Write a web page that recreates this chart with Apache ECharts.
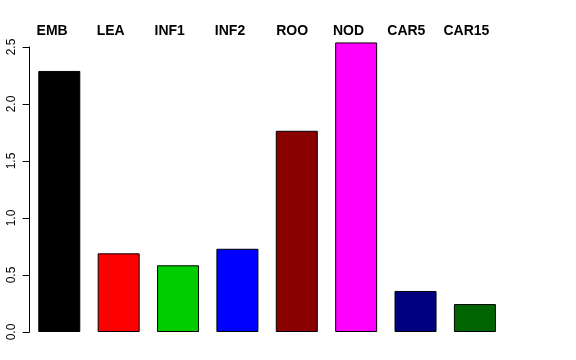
<!DOCTYPE html>
<html>
<head>
<meta charset="utf-8">
<script src="https://cdn.jsdelivr.net/npm/echarts@6/dist/echarts.min.js"></script>
<style>html,body{margin:0;padding:0;background:#fff}#c{width:576px;height:360px}</style>
</head>
<body>
<div id="c"></div>
<script>
const categories = ['EMB', 'LEA', 'INF1', 'INF2', 'ROO', 'NOD', 'CAR5', 'CAR15'];
const values = [2.29, 0.69, 0.585, 0.73, 1.765, 2.54, 0.36, 0.245];
const colors = ['#000000', '#FF0000', '#00CD00', '#0000FF', '#8B0000', '#FF00FF', '#000080', '#006400'];
const yTicks = [0, 0.5, 1.0, 1.5, 2.0, 2.5];
// top label left edges, in bar-slot units (slot i spans i..i+1)
const labelPos = [0.118, 1.129, 2.104, 3.120, 4.154, 5.108, 6.024, 6.971];

const chart = echarts.init(document.getElementById('c'), null, {renderer: 'canvas'});
const font = '"Liberation Sans", Arial, Helvetica, sans-serif';
chart.setOption({
  animation: false,
  backgroundColor: '#ffffff',
  grid: {left: 29.6, top: 47, width: 475, bottom: 28, containLabel: false},
  xAxis: [{
    type: 'category',
    data: categories,
    position: 'bottom',
    axisLine: {show: false},
    axisTick: {show: false},
    axisLabel: {show: false},
    splitLine: {show: false}
  }, {
    type: 'value',
    position: 'top',
    min: 0,
    max: categories.length,
    axisLine: {show: false},
    axisTick: {show: false},
    splitLine: {show: false},
    axisLabel: {
      customValues: labelPos,
      margin: 9,
      align: 'left',
      fontFamily: font,
      fontSize: 14,
      fontWeight: 'bold',
      color: '#000',
      formatter: function (v) {
        const i = labelPos.findIndex(p => Math.abs(p - v) < 1e-6);
        return i >= 0 ? categories[i] : '';
      }
    }
  }],
  yAxis: {
    type: 'value',
    min: 0,
    max: 2.5,
    interval: 0.5,
    offset: 1,
    axisLine: {show: true, lineStyle: {color: '#000', width: 1}},
    axisTick: {show: true, length: 7, lineStyle: {color: '#000', width: 1}},
    splitLine: {show: false},
    axisLabel: {
      rotate: 90,
      margin: 11,
      fontFamily: font,
      fontSize: 12,
      color: '#000',
      formatter: v => v.toFixed(1)
    }
  },
  series: [{
    type: 'bar',
    xAxisIndex: 0,
    clip: false,
    barWidth: 42,
    data: values.map((v, i) => ({
      value: v,
      itemStyle: {color: colors[i], borderColor: '#000', borderWidth: 1}
    }))
  }]
});
</script>
</body>
</html>
